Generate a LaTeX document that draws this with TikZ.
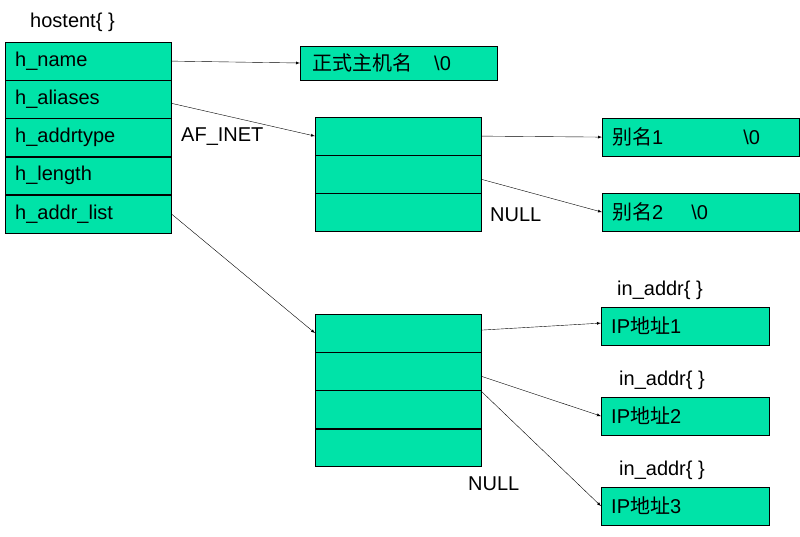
\documentclass[tikz,border=0pt]{standalone}
\usepackage{fontspec}
\setmainfont{Liberation Sans}
\newfontfamily\cjk{Noto Sans CJK SC}
\usetikzlibrary{arrows,positioning}
\definecolor{cellgreen}{HTML}{00E3A8}
\tikzstyle{field}=[rectangle,draw=black,fill=cellgreen,minimum width=166pt,minimum height=37.8pt,anchor=north west,inner sep=0pt,font=\fontsize{20}{22}\selectfont]
\tikzstyle{ptr}=[field,minimum width=166pt]
\tikzstyle{str}=[field,minimum width=197pt]
\tikzstyle{ip}=[field,minimum width=168pt]
\tikzstyle{lbl}=[font=\fontsize{20}{22}\selectfont,inner sep=0pt]
\begin{document}
\begin{tikzpicture}[x=1pt,y=-1pt,>=latex]
\useasboundingbox (0,0) rectangle (800,536);

            % hostent PART

            \node[lbl,anchor=west] (host) at (30,22) {hostent\{ \}};
            \node[field] (h1) at (5,42) {};
            \node[field,below=0pt of h1] (h2) {};
            \node[field,below=0pt of h2] (h3) {};
            \node[field,below=0pt of h3] (h4) {};
            \node[field,below=0pt of h4] (h5) {};
            \node[lbl,anchor=west] at ([xshift=10pt]h1.west) {h\_name};
            \node[lbl,anchor=west] at ([xshift=10pt]h2.west) {h\_aliases};
            \node[lbl,anchor=west] at ([xshift=10pt]h3.west) {h\_addrtype};
            \node[lbl,anchor=west] at ([xshift=10pt]h4.west) {h\_length};
            \node[lbl,anchor=west] at ([xshift=10pt]h5.west) {h\_addr\_list};

            % name and aliases PART

            \node[field,minimum width=197pt,minimum height=34pt,anchor=west] (name) at (300,63) {};
            \node[lbl,anchor=west] at ([xshift=12pt]name.west) {{\cjk 正式主机名}\hspace{22pt}\textbackslash0};

            \node[ptr] (a1) at (315,117) {};
            \node[ptr,below=0pt of a1] (a2) {};
            \node[ptr,below=0pt of a2] (a3) {};
            \node[lbl,anchor=west] (inet) at (181,137) {AF\_INET};
            \node[lbl,anchor=west] (null1) at (490,215) {NULL};

            \node[str] (s1) at (602,118) {};
            \node[lbl,anchor=west] at ([xshift=10pt]s1.west) {{\cjk 别名}1\hspace{80pt}\textbackslash0};
            \node[str] (s2) at (602,193) {};
            \node[lbl,anchor=west] at ([xshift=10pt]s2.west) {{\cjk 别名}2\hspace{28pt}\textbackslash0};

            \draw[->] (h1.east) -- (name.west);
            \draw[->] ([yshift=-4pt]h2.east) -- (a1.west);
            \draw[->] (a1.east) -- (s1.west);
            \draw[->] ([yshift=-5pt]a2.east) -- (s2.west);

            % addr_list PART

            \node[ptr] (b1) at (315,314) {};
            \node[ptr,below=0pt of b1] (b2) {};
            \node[ptr,below=0pt of b2] (b3) {};
            \node[ptr,below=0pt of b3] (b4) {};
            \node[lbl,anchor=west] (null2) at (468,484) {NULL};

            \node[ip] (ip1) at (601,307) {};
            \node[ip] (ip2) at (601,397) {};
            \node[ip] (ip3) at (601,487) {};
            \node[lbl,anchor=west] at ([xshift=10pt]ip1.west) {IP{\cjk 地址}1};
            \node[lbl,anchor=west] at ([xshift=10pt]ip2.west) {IP{\cjk 地址}2};
            \node[lbl,anchor=west] at ([xshift=10pt]ip3.west) {IP{\cjk 地址}3};
            \node[lbl,anchor=west] (in1) at (617,290) {in\_addr\{ \}};
            \node[lbl,anchor=west] (in2) at (619,380) {in\_addr\{ \}};
            \node[lbl,anchor=west] (in3) at (619,470) {in\_addr\{ \}};

            \draw[->] (h5.east) -- (b1.west);
            \draw[->] ([yshift=3pt]b1.east) -- ([yshift=3pt]ip1.west);
            \draw[->] ([yshift=-5pt]b2.east) -- (ip2.west);
            \draw[->] ([yshift=-1pt]b3.north east) -- (ip3.west);

\end{tikzpicture}
\end{document}
